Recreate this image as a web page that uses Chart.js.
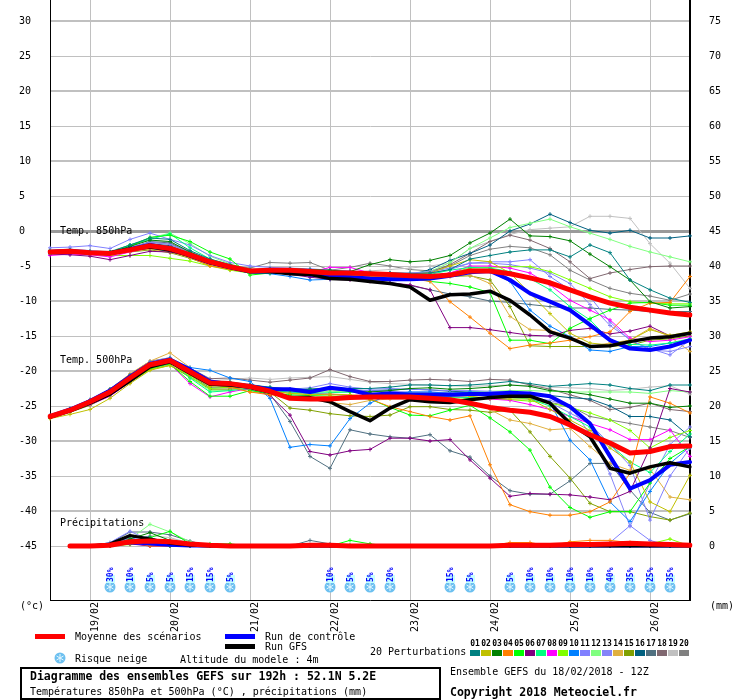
<!DOCTYPE html>
<html>
<head>
<meta charset="utf-8">
<script src="https://cdn.jsdelivr.net/npm/chart.js@4.4.0/dist/chart.umd.min.js"></script>
<style>
body { margin: 0; background: #fff; }
#wrap { position: relative; width: 740px; height: 700px; font-family: "DejaVu Sans Mono", monospace; font-size: 10px; color: #000; }
#wrap canvas { position: absolute; left: 0; top: 0; }
.t { position: absolute; white-space: pre; line-height: 10px; }
.b { font-weight: bold; font-size: 11.5px; line-height: 12px; }
.sw { position: absolute; }
.num { position: absolute; font-size: 8px; font-weight: bold; line-height: 8px; width: 10px; text-align: center; }
#box { position: absolute; left: 20px; top: 667px; width: 421px; height: 33px; border: 2px solid #000; box-sizing: border-box; }
</style>
</head>
<body>
<div id="wrap">
<canvas id="gefs" width="740" height="700"></canvas>
<div class="t" style="left:60px;top:226px">Temp. 850hPa</div>
<div class="t" style="left:60px;top:355px">Temp. 500hPa</div>
<div class="t" style="left:60px;top:518px">Précipitations</div>
<div class="t" style="left:20px;top:601px">(°c)</div>
<div class="t" style="left:710px;top:601px">(mm)</div>

<div class="sw" style="left:35px;top:634px;width:30px;height:5px;background:#ff0000"></div>
<div class="t" style="left:75px;top:632px">Moyenne des scénarios</div>
<div class="sw" style="left:225px;top:634px;width:30px;height:5px;background:#0000ff"></div>
<div class="t" style="left:265px;top:632px">Run de contrôle</div>
<div class="sw" style="left:225px;top:644px;width:30px;height:5px;background:#000000"></div>
<div class="t" style="left:265px;top:642px">Run GFS</div>
<div class="t" style="left:75px;top:654px">Risque neige</div>
<div class="t" style="left:180px;top:655px">Altitude du modele : 4m</div>
<div class="t" style="left:370px;top:647px">20 Perturbations</div>
<div id="members"></div>

<div id="box"></div>
<div class="t b" style="left:30px;top:670px">Diagramme des ensembles GEFS sur 192h : 52.1N 5.2E</div>
<div class="t" style="left:30px;top:687px">Températures 850hPa et 500hPa (°C) , précipitations (mm)</div>
<div class="t" style="left:450px;top:667px">Ensemble GEFS du 18/02/2018 - 12Z</div>
<div class="t b" style="left:450px;top:686px">Copyright 2018 Meteociel.fr</div>
</div>

<script>
// run 18/02/2018 12Z, every 6h up to 192h
const times = ['18/02 12Z','18/02 18Z',
    '19/02 00Z','19/02 06Z','19/02 12Z','19/02 18Z',
    '20/02 00Z','20/02 06Z','20/02 12Z','20/02 18Z',
    '21/02 00Z','21/02 06Z','21/02 12Z','21/02 18Z',
    '22/02 00Z','22/02 06Z','22/02 12Z','22/02 18Z',
    '23/02 00Z','23/02 06Z','23/02 12Z','23/02 18Z',
    '24/02 00Z','24/02 06Z','24/02 12Z','24/02 18Z',
    '25/02 00Z','25/02 06Z','25/02 12Z','25/02 18Z',
    '26/02 00Z','26/02 06Z','26/02 12Z'];

const memberColors = ['#008080','#c0c000','#008000','#ff8000','#00ff00','#800080','#00ff80','#ff00ff','#80ff00','#0080ff',
    '#8080ff','#80ff80','#8484f8','#e0b040','#80a000','#006080','#507080','#806870','#c0c0c0','#808080'];

// risque neige (%)
const snowRisk = [0,0,0,30,10,5,5,15,15,5, 0,0,0,0,10,5,5,20,0,0, 15,5,0,5,10,10,10,10,40,35, 25,35,0];

// 850 hPa
const mean850 = [-3.0,-2.9,-3.1,-3.2,-2.7,-2.1,-2.5,-3.4,-4.4,-5.1,-5.7, -5.6,-5.6,-5.8,-6.0,-6.0,-6.1,-6.2,-6.4,-6.5,-6.3, -5.7,-5.7,-6.1,-6.7,-7.4,-8.4,-9.4,-10.3,-10.9,-11.3,-11.7,-12.0];
const ctrl850 = [-3.0,-2.9,-3.1,-3.2,-2.6,-2.0,-2.5,-3.5,-4.5,-5.2,-5.8, -5.8,-5.9,-6.2,-6.5,-6.6,-6.8,-6.9,-6.9,-6.8,-6.4, -5.9,-5.7,-7.0,-8.9,-10.1,-11.3,-13.4,-15.6,-16.8,-17.0,-16.5,-15.6];
const gfs850 = [-3.0,-2.9,-3.1,-3.1,-2.6,-2.3,-2.7,-3.5,-4.5,-5.2,-5.8, -5.8,-6.1,-6.2,-6.8,-6.9,-7.2,-7.5,-8.0,-9.9,-9.1, -9.0,-8.6,-9.9,-12.0,-14.4,-15.3,-16.5,-16.4,-15.8,-15.3,-15.1,-14.6];
const members850 = [
    [-2.8,-2.7,-2.9,-3.0,-2.0,-1.0,-1.2,-2.8,-4.0,-4.8,-5.5, -5.4,-5.5,-5.7,-5.8,-5.9,-6.0,-6.0,-6.1,-6.0,-5.5, -4.0,-3.5,-3.0,-2.7,-2.7,-3.7,-2.0,-3.1,-7.0,-8.4,-9.6,-10.2],
    [-3.1,-3.0,-3.2,-3.3,-2.9,-2.4,-2.7,-3.5,-4.6,-5.3,-5.9, -5.8,-5.9,-6.0,-6.2,-6.1,-6.3,-6.4,-6.2,-6.0,-5.0, -4.1,-4.4,-6.0,-8.9,-11.8,-14.6,-16.0,-16.3,-15.6,-14.1,-14.9,-14.4],
    [-3.0,-2.8,-3.0,-3.1,-2.2,-1.3,-1.5,-3.0,-4.2,-5.0,-5.6, -5.5,-5.4,-5.5,-5.6,-5.8,-4.8,-4.1,-4.4,-4.2,-3.5, -1.7,-0.3,1.7,-0.7,-0.8,-1.4,-3.3,-5.1,-7.0,-10.1,-11.0,-10.8],
    [-3.0,-3.0,-3.1,-3.3,-2.8,-2.3,-2.8,-3.8,-5.0,-5.5,-5.9, -5.8,-5.8,-6.0,-6.3,-6.4,-6.5,-6.6,-6.8,-7.2,-10.1, -12.3,-14.6,-16.8,-16.3,-16.0,-15.6,-15.1,-14.4,-11.5,-10.3,-10.2,-6.5],
    [-3.1,-2.9,-3.0,-3.1,-2.2,-0.9,-0.6,-1.5,-3.0,-4.0,-6.3, -6.0,-5.9,-6.0,-6.1,-6.2,-6.3,-6.4,-6.6,-7.2,-7.5, -8.0,-8.8,-15.6,-15.6,-16.1,-13.9,-12.5,-11.3,-10.3,-10.2,-10.6,-10.6],
    [-3.3,-3.4,-3.6,-4.1,-3.5,-2.9,-3.0,-3.6,-4.5,-5.3,-5.8, -5.9,-6.2,-6.6,-6.9,-7.0,-7.2,-7.4,-7.7,-8.4,-13.8, -13.8,-14.1,-14.5,-14.9,-15.0,-14.2,-13.9,-14.7,-14.3,-13.6,-15.0,-14.6],
    [-2.9,-2.8,-3.0,-3.0,-2.0,-1.2,-0.4,-2.4,-4.0,-4.9,-5.6, -5.6,-5.6,-5.8,-5.9,-6.0,-6.1,-6.2,-6.3,-6.2,-5.6, -5.2,-5.3,-5.8,-6.8,-8.4,-10.8,-12.7,-15.6,-16.2,-16.3,-16.0,-15.4],
    [-3.5,-3.3,-3.4,-3.7,-3.0,-2.4,-2.7,-3.5,-4.5,-5.2,-5.8, -5.7,-5.8,-5.9,-5.2,-5.2,-6.0,-6.3,-6.5,-6.4,-6.0, -5.0,-5.0,-5.3,-6.0,-7.7,-9.9,-11.3,-12.7,-15.3,-15.8,-15.6,-15.1],
    [-3.2,-3.1,-3.3,-3.5,-3.5,-3.5,-3.9,-4.3,-5.0,-5.6,-6.0, -5.9,-5.8,-6.0,-6.2,-6.1,-6.2,-6.4,-6.5,-6.5,-6.0, -5.3,-5.2,-5.1,-5.1,-5.8,-7.0,-8.2,-9.4,-10.1,-10.3,-10.4,-10.4],
    [-2.9,-2.8,-3.0,-3.1,-2.6,-2.4,-2.9,-3.6,-4.6,-5.4,-6.0, -6.1,-6.5,-7.0,-6.9,-6.8,-6.7,-6.5,-6.6,-6.4,-6.0, -5.5,-5.8,-7.2,-11.3,-13.6,-15.1,-17.0,-17.2,-16.5,-16.5,-16.0,-15.6],
    [-2.4,-2.3,-2.1,-2.5,-1.2,-0.3,-1.2,-2.0,-3.5,-4.5,-5.0, -5.2,-5.3,-5.4,-5.6,-5.7,-5.9,-6.0,-6.0,-5.8,-5.3, -4.6,-4.4,-4.4,-4.1,-6.5,-8.4,-9.4,-13.0,-15.6,-16.8,-17.7,-15.6],
    [-2.9,-2.8,-3.0,-3.0,-2.0,-1.0,-0.3,-1.8,-3.6,-4.7,-5.5, -5.5,-5.6,-5.7,-5.8,-5.8,-5.9,-6.0,-6.0,-5.8,-4.5, -2.5,-1.0,0.5,1.1,1.7,0.6,-0.3,-1.2,-2.2,-3.0,-3.7,-4.4],
    [-2.8,-2.6,-2.8,-3.0,-2.3,-1.6,-1.9,-3.0,-4.1,-4.9,-5.5, -5.5,-5.6,-5.7,-5.9,-6.0,-6.0,-6.1,-6.2,-6.1,-5.5, -4.6,-4.6,-4.8,-5.3,-6.0,-7.5,-10.5,-13.5,-15.5,-17.0,-17.2,-16.5],
    [-3.0,-3.0,-3.2,-3.4,-2.9,-2.6,-3.0,-3.8,-4.8,-5.5,-5.8, -5.8,-5.9,-6.0,-6.1,-6.2,-6.3,-6.4,-6.5,-6.6,-6.4, -6.3,-7.5,-12.2,-14.1,-14.2,-15.1,-16.5,-16.0,-15.6,-13.9,-15.1,-17.2],
    [-3.1,-3.0,-3.2,-3.4,-3.0,-2.7,-3.1,-3.9,-4.9,-5.5,-6.0, -5.9,-6.0,-6.1,-6.2,-6.3,-6.4,-6.5,-6.6,-6.6,-6.5, -6.4,-7.0,-10.8,-16.4,-16.5,-16.5,-16.5,-16.5,-16.3,-15.6,-15.4,-15.0],
    [-2.9,-2.8,-3.0,-3.1,-2.4,-1.8,-2.1,-3.2,-4.3,-5.1,-5.7, -5.7,-5.7,-5.9,-6.0,-6.1,-6.2,-6.2,-6.3,-5.5,-4.2, -3.2,-2.0,0.0,1.0,2.4,1.2,0.1,-0.3,0.1,-1.0,-1.0,-0.7],
    [-3.0,-2.9,-3.0,-3.2,-2.5,-1.5,-1.7,-3.1,-4.3,-5.0,-5.6, -5.7,-5.9,-6.2,-6.5,-6.8,-7.1,-7.4,-7.8,-8.4,-9.0, -9.4,-10.0,-10.2,-10.5,-10.8,-11.0,-11.0,-11.2,-11.3,-11.5,-11.5,-11.5],
    [-3.0,-2.9,-3.1,-3.2,-2.7,-2.0,-2.4,-3.3,-4.4,-5.1,-5.6, -5.5,-5.5,-5.6,-5.7,-5.8,-5.9,-6.0,-6.0,-5.9,-4.8, -3.2,-1.5,-0.6,-1.3,-2.5,-4.4,-6.8,-6.0,-5.5,-5.1,-5.0,-5.0],
    [-2.7,-2.6,-2.8,-2.9,-2.0,-1.3,-1.6,-2.9,-4.1,-4.9,-5.5, -5.4,-5.4,-5.5,-5.6,-5.7,-5.7,-5.5,-5.3,-5.0,-4.6, -2.5,-1.5,-0.5,0.2,0.4,0.6,2.1,2.1,1.8,-1.8,-4.6,-8.2],
    [-3.0,-2.9,-3.0,-3.1,-2.4,-1.6,-1.9,-3.0,-4.2,-4.9,-5.3, -4.5,-4.6,-4.5,-5.6,-5.2,-4.6,-5.0,-5.5,-5.7,-5.0, -3.5,-2.6,-2.2,-2.4,-3.4,-5.6,-7.0,-8.2,-8.9,-9.3,-9.9,-9.0]
];

// 500 hPa
const mean500 = [-26.5,-25.6,-24.4,-23.0,-21.0,-19.1,-18.5,-20.1,-21.7,-21.8,-22.2, -22.9,-23.9,-24.0,-24.0,-23.8,-23.7,-23.7,-23.7,-23.9,-24.1,-24.6, -25.2,-25.6,-25.9,-26.5,-27.7,-29.1,-30.3,-31.7,-31.5,-30.8,-30.7];
const ctrl500 = [-26.5,-25.5,-24.3,-22.8,-20.8,-19.0,-18.4,-19.8,-21.5,-21.9,-22.2, -22.6,-22.6,-23.0,-22.4,-22.7,-23.4,-23.2,-23.4,-23.4,-23.4,-23.3, -23.3,-23.1,-23.2,-23.6,-25.1,-27.5,-32.2,-36.8,-35.6,-33.4,-33.0];
const gfs500 = [-26.6,-25.7,-24.6,-23.3,-21.4,-19.4,-18.7,-20.3,-21.9,-22.0,-22.3, -23.0,-23.8,-23.8,-24.4,-25.8,-27.1,-25.3,-24.1,-24.4,-24.5,-24.1, -23.8,-23.6,-23.6,-24.6,-27.5,-29.4,-33.9,-34.6,-33.7,-33.1,-33.7];
const members500 = [
    [-26.4,-25.4,-24.2,-22.6,-20.6,-18.8,-18.2,-19.8,-21.5,-21.7,-22.0, -22.3,-22.6,-22.6,-22.4,-22.5,-22.5,-22.3,-22.0,-22.0,-22.1,-22.0, -21.8,-21.5,-21.8,-22.2,-22.0,-21.8,-22.0,-22.5,-22.8,-22.0,-22.0],
    [-26.8,-26.2,-25.5,-23.9,-21.8,-19.9,-19.2,-20.6,-22.2,-22.0,-22.3, -22.8,-23.2,-23.4,-23.3,-23.4,-23.6,-23.5,-23.4,-23.5,-23.5,-23.6, -23.9,-24.0,-24.0,-25.5,-27.0,-28.5,-31.0,-33.0,-38.7,-40.1,-34.9],
    [-26.5,-25.5,-24.3,-22.9,-20.9,-19.0,-18.6,-20.4,-21.5,-21.6,-22.0, -22.4,-22.8,-22.6,-22.5,-22.9,-23.0,-22.8,-22.5,-22.4,-22.6,-22.5, -22.3,-22.0,-22.2,-22.8,-23.0,-23.4,-24.0,-24.6,-24.6,-25.2,-25.0],
    [-26.6,-25.7,-24.5,-23.2,-21.2,-19.3,-18.7,-20.5,-22.0,-22.3,-23.0, -23.4,-23.6,-23.8,-23.6,-23.7,-24.0,-25.1,-25.8,-26.5,-27.0,-26.4, -33.4,-39.1,-40.1,-40.6,-40.6,-40.1,-38.7,-34.6,-23.7,-24.6,-26.0],
    [-26.5,-25.6,-24.6,-23.4,-21.5,-19.6,-19.0,-21.5,-23.6,-23.6,-22.8, -23.2,-23.4,-23.5,-23.6,-23.8,-24.0,-25.2,-26.3,-26.4,-25.6,-24.9, -26.7,-28.7,-31.3,-36.6,-39.5,-40.9,-40.1,-40.1,-36.0,-32.5,-30.8],
    [-26.6,-25.7,-24.5,-23.2,-21.2,-19.3,-18.8,-20.5,-22.0,-22.2,-22.5, -23.5,-26.3,-31.5,-32.0,-31.4,-31.2,-29.6,-29.6,-30.0,-29.8,-32.7, -35.3,-37.9,-37.5,-37.6,-37.7,-38.0,-38.4,-37.2,-31.0,-22.5,-23.0],
    [-26.5,-25.5,-24.3,-22.9,-20.8,-19.0,-18.6,-21.0,-23.0,-22.8,-22.5, -22.8,-23.0,-23.2,-23.1,-23.0,-23.2,-23.3,-23.5,-23.6,-23.7,-23.8, -23.8,-23.8,-24.0,-25.0,-26.5,-28.0,-30.5,-33.0,-34.5,-31.5,-29.0],
    [-26.6,-25.8,-24.8,-23.6,-21.6,-19.5,-19.0,-21.8,-23.7,-23.0,-22.5, -22.7,-23.0,-23.2,-23.3,-23.5,-23.4,-23.3,-23.4,-23.5,-23.6,-23.8, -24.0,-24.2,-24.8,-25.5,-26.5,-27.5,-28.4,-29.8,-29.8,-28.4,-32.2],
    [-26.6,-25.8,-24.7,-23.4,-21.6,-19.8,-19.2,-20.8,-22.5,-22.3,-22.5, -22.9,-23.2,-23.3,-23.4,-23.5,-23.6,-23.6,-23.6,-23.7,-23.8,-23.9, -24.0,-24.1,-24.3,-24.6,-25.2,-26.0,-27.0,-28.5,-31.0,-29.5,-28.5],
    [-26.5,-25.6,-24.4,-23.1,-21.1,-19.0,-18.3,-19.5,-19.9,-21.0,-21.5, -23.9,-30.9,-30.5,-30.7,-26.8,-24.6,-23.3,-23.0,-23.0,-23.2,-23.0, -23.1,-23.3,-23.5,-24.5,-29.9,-32.7,-38.7,-41.5,-37.2,-33.2,-30.8],
    [-26.4,-25.4,-24.1,-22.7,-20.6,-18.7,-18.1,-19.8,-21.4,-21.6,-21.9, -22.4,-22.6,-22.4,-21.8,-22.3,-22.6,-22.5,-22.6,-22.7,-22.8,-22.8, -22.9,-23.0,-23.5,-24.5,-26.0,-27.5,-30.5,-33.5,-41.3,-35.0,-31.0],
    [-26.5,-25.6,-24.5,-23.2,-21.2,-19.3,-18.8,-20.8,-22.8,-22.8,-22.4, -22.8,-23.0,-23.1,-22.9,-23.0,-23.2,-23.3,-23.4,-23.3,-23.2,-23.0, -22.9,-22.8,-22.8,-22.9,-23.0,-23.0,-23.0,-23.0,-23.2,-22.8,-23.0],
    [-26.4,-25.5,-24.2,-22.8,-20.7,-18.8,-18.3,-20.0,-21.6,-21.9,-22.1, -22.5,-22.8,-22.9,-22.6,-22.7,-22.8,-22.9,-23.0,-23.0,-23.1,-23.2, -23.3,-23.5,-23.8,-24.2,-25.0,-29.0,-34.7,-42.2,-36.0,-30.5,-28.0],
    [-26.5,-25.5,-24.2,-22.6,-20.4,-18.6,-17.4,-19.5,-21.8,-22.3,-23.0, -23.2,-23.6,-23.8,-24.5,-24.8,-24.2,-24.0,-24.0,-24.2,-24.4,-24.5, -25.5,-27.0,-27.5,-28.4,-28.2,-30.8,-33.2,-34.2,-34.0,-38.0,-38.4],
    [-26.7,-25.9,-24.9,-23.5,-21.6,-19.7,-19.2,-20.9,-22.6,-22.6,-22.6, -23.0,-25.3,-25.6,-26.1,-26.4,-26.5,-26.3,-25.1,-25.1,-25.5,-25.6, -25.9,-25.6,-28.7,-32.2,-35.3,-38.9,-40.1,-40.1,-40.8,-41.3,-40.3],
    [-26.5,-25.6,-24.4,-23.0,-21.0,-19.1,-18.6,-20.3,-21.9,-22.0,-22.2, -22.6,-22.9,-22.8,-22.6,-22.7,-22.8,-22.7,-22.6,-22.7,-22.9,-23.0, -23.0,-23.2,-23.3,-23.5,-23.8,-24.0,-25.0,-26.5,-26.5,-27.0,-29.4],
    [-26.5,-25.5,-24.2,-22.8,-20.8,-19.0,-18.6,-20.6,-22.4,-22.4,-22.7, -23.3,-27.2,-32.2,-33.9,-28.4,-29.0,-29.4,-29.6,-29.1,-31.4,-32.3, -35.0,-37.1,-37.6,-37.6,-35.7,-33.2,-33.2,-37.0,-40.2,-41.3,-40.4],
    [-26.4,-25.4,-24.1,-22.6,-20.5,-18.6,-18.1,-19.6,-21.1,-21.0,-21.3, -21.6,-21.3,-21.0,-19.8,-20.8,-21.5,-21.5,-21.3,-21.2,-21.3,-21.5, -21.2,-21.3,-22.0,-22.6,-23.4,-24.2,-25.5,-25.2,-24.6,-25.5,-25.8],
    [-26.4,-25.4,-24.2,-22.7,-20.6,-18.8,-18.3,-19.9,-21.4,-21.2,-21.0, -21.2,-21.0,-20.9,-20.8,-21.2,-21.6,-21.8,-21.9,-22.0,-22.1,-22.2, -22.1,-22.0,-22.1,-22.3,-22.4,-22.5,-22.8,-22.6,-22.3,-22.1,-23.3],
    [-26.5,-25.5,-24.3,-22.9,-20.9,-19.0,-18.5,-20.2,-21.8,-22.0,-22.3, -22.6,-22.8,-22.8,-22.7,-22.8,-22.9,-23.0,-23.1,-23.1,-23.2,-23.3, -23.4,-23.6,-24.0,-24.5,-25.0,-26.5,-27.0,-27.5,-28.0,-28.5,-29.5]
];

// precipitations (mm / 6h), nothing at 0h
const rainMean = [null, 0,0,0.1,0.6,0.7,0.6,0.3,0.1, 0,0,0,0,0.1,0.1,0,0, 0,0,0,0,0,0,0.1,0.1, 0.1,0.2,0.2,0.3,0.4,0.3,0.2,0.1];
const rainCtrl = [null, 0,0,0.2,0.5,0.3,0.1,0,0, 0,0,0,0,0,0,0,0, 0,0,0,0,0,0,0,0, 0,0,0,0,0,0,0,0];
const rainGfs = [null, 0,0,0.3,1.5,1.0,0.4,0.1,0, 0,0,0,0,0,0,0,0, 0,0,0,0,0,0,0,0, 0,0,0,0,0,0,0,0];
const rainMembers = [
    [null, 0,0,0,0.8,0.6,0,0,0, 0,0,0,0,0,0,0,0, 0,0,0,0,0,0,0,0, 0,0,0,0,0,0,0,0],
    [null, 0,0,0,0.4,0.3,0,0,0, 0,0,0,0,0,0,0,0, 0,0,0,0,0,0,0,0, 0,0,0,0,0,0,0,0],
    [null, 0,0,0,1.0,1.9,0.8,0.2,0, 0,0,0,0,0,0,0.1,0, 0,0,0,0,0,0,0,0, 0,0,0,0,0,0,0,0],
    [null, 0,0,0.3,0.6,0,0,0,0, 0,0,0,0,0,0,0,0, 0,0,0,0,0,0,0.5,0.5, 0,0.6,0.8,0.8,0.5,0,0,0],
    [null, 0,0,0,0.7,1.2,2.1,0.3,0.3, 0.3,0,0,0,0,0,0.8,0.3, 0,0,0,0,0,0,0,0, 0,0,0.3,0.3,0,0,0,0],
    [null, 0,0,0,0.3,0,0,0,0, 0,0,0,0,0,0,0,0, 0,0,0,0,0,0,0,0, 0,0,0,0,0,0,0,0],
    [null, 0,0,0,0.5,0.4,0,0,0, 0,0,0,0,0,0,0,0, 0,0,0,0,0,0,0,0, 0,0,0,0,0,0,0,0],
    [null, 0,0,0,0.4,0,0,0,0, 0,0,0,0,0,0,0,0, 0,0,0,0,0,0,0,0, 0,0,0,0,0,0,0,0],
    [null, 0,0,0,0.2,0.3,0,0,0, 0,0,0,0,0,0,0,0, 0,0,0,0,0,0,0,0, 0,0,0,0,0,0.3,1.0,0],
    [null, 0,0,0,0.6,0.3,0,0,0, 0,0,0,0,0,0,0,0, 0,0,0,0,0,0,0,0, 0,0,0,0,0,0,0,0],
    [null, 0,0,0.5,2.1,0.8,0,0,0, 0,0,0,0,0,0,0,0, 0,0,0,0,0,0,0,0, 0,0,0,0.5,2.9,0.8,0,0],
    [null, 0,0,0,1.0,3.1,2.0,0.6,0, 0,0,0,0,0,0,0,0, 0,0,0,0,0,0,0,0, 0,0,0,0,0,0,0,0],
    [null, 0,0,0,1.2,0.6,0,0,0, 0,0,0,0,0,0,0,0, 0,0,0,0,0,0,0,0, 0,0,0,0,0,0,0,0],
    [null, 0,0,0,0.5,0.6,0.3,0,0, 0,0,0,0,0,0,0,0, 0,0,0,0,0,0,0,0, 0,0,0,0,0,0,0,0],
    [null, 0,0,0,0.3,0.4,0,0,0, 0,0,0,0,0,0,0,0, 0,0,0,0,0,0,0,0, 0,0,0,0,0,0,0,0],
    [null, 0,0,0,1.2,1.3,0,0,0, 0,0,0,0,0,0,0,0, 0,0,0,0,0,0,0,0, 0,0,0,0,0,0,0,0],
    [null, 0,0,0.4,2.0,2.0,1.6,0.7,0, 0,0,0,0,0.8,0.3,0,0, 0,0,0,0,0,0,0,0, 0,0,0,0,0,0,0,0],
    [null, 0,0,0,0.5,0.9,0.6,0,0, 0,0,0,0,0,0,0,0, 0,0,0,0,0,0,0,0, 0,0,0,0,0,0,0,0],
    [null, 0,0,0,0.6,1.5,1.2,0.4,0, 0,0,0,0,0,0,0,0, 0,0,0,0,0,0,0,0, 0,0,0,0,0,0,0,0],
    [null, 0,0,0,0.9,1.0,0.5,0,0, 0,0,0,0,0,0,0,0, 0,0,0,0,0,0,0,0, 0,0,0,0,0,0,0,0]
];

// temperature axis runs -52.7..33 (7 px per degree), rain axis is the same shifted by 45
const tMin = -52.714;
const tMax = 33;
const rainShift = 45;

function memberSet(data, color, axis) {
    return {
        data: data,
        borderColor: color,
        backgroundColor: color,
        borderWidth: 1,
        pointStyle: 'cross',
        pointRadius: 2,
        pointBorderWidth: 1,
        pointBorderColor: color,
        yAxisID: axis,
        order: 3
    };
}

function mainSet(data, color, width, axis, order) {
    return {
        data: data,
        borderColor: color,
        borderWidth: width,
        borderJoinStyle: 'round',
        borderCapStyle: 'round',
        pointRadius: 0,
        yAxisID: axis,
        order: order
    };
}

function buildDatasets() {
    const sets = [];
    members850.forEach((d, i) => sets.push(memberSet(d, memberColors[i], 'y')));
    members500.forEach((d, i) => sets.push(memberSet(d, memberColors[i], 'y')));
    rainMembers.forEach((d, i) => sets.push(memberSet(d, memberColors[i], 'y2')));
    sets.push(mainSet(ctrl850, '#0000ff', 4, 'y', 2));
    sets.push(mainSet(ctrl500, '#0000ff', 4, 'y', 2));
    sets.push(mainSet(rainCtrl, '#0000ff', 3, 'y2', 2));
    sets.push(mainSet(gfs850, '#000000', 3.5, 'y', 1));
    sets.push(mainSet(gfs500, '#000000', 3.5, 'y', 1));
    sets.push(mainSet(rainGfs, '#000000', 3, 'y2', 1));
    sets.push(mainSet(mean850, '#ff0000', 5, 'y', 0));
    sets.push(mainSet(mean500, '#ff0000', 5, 'y', 0));
    sets.push(mainSet(rainMean, '#ff0000', 5, 'y2', 0));
    return sets;
}

function drawFlake(ctx, x, y) {
    ctx.save();
    ctx.fillStyle = '#6cc0f0';
    ctx.beginPath();
    ctx.arc(x, y, 5.5, 0, Math.PI * 2);
    ctx.fill();
    ctx.strokeStyle = '#e8f8ff';
    ctx.lineWidth = 1;
    for (let k = 0; k < 3; k++) {
        const a = k * Math.PI / 3 + Math.PI / 2;
        ctx.beginPath();
        ctx.moveTo(x - 4 * Math.cos(a), y - 4 * Math.sin(a));
        ctx.lineTo(x + 4 * Math.cos(a), y + 4 * Math.sin(a));
        ctx.stroke();
    }
    ctx.restore();
}

const snowPlugin = {
    id: 'snow',
    afterDatasetsDraw(chart) {
        const ctx = chart.ctx;
        const xs = chart.scales.x;
        const base = chart.chartArea.bottom;
        snowRisk.forEach((p, i) => {
            if (!p) return;
            const x = xs.getPixelForValue(i);
            drawFlake(ctx, x, base - 13);
            ctx.save();
            ctx.fillStyle = '#c8ffff';
            ctx.fillRect(x - 4, base - 25, 9, 8);
            ctx.translate(x + 1, base - 18);
            ctx.rotate(-Math.PI / 2);
            ctx.fillStyle = '#0000ff';
            ctx.font = 'bold 8px "DejaVu Sans Mono"';
            ctx.textBaseline = 'middle';
            ctx.textAlign = 'left';
            ctx.fillText(p + '%', 0, 0);
            ctx.restore();
        });
        // legend icon
        drawFlake(ctx, 60, 658);
    }
};

// perturbation legend
const memberBox = document.getElementById('members');
memberColors.forEach((c, i) => {
    const num = document.createElement('div');
    num.className = 'num';
    num.style.left = (470 + i * 11) + 'px';
    num.style.top = '640px';
    num.textContent = String(i + 1).padStart(2, '0');
    memberBox.appendChild(num);
    const sw = document.createElement('div');
    sw.className = 'sw';
    sw.style.left = (470 + i * 11) + 'px';
    sw.style.top = '650px';
    sw.style.width = '10px';
    sw.style.height = '6px';
    sw.style.background = c;
    memberBox.appendChild(sw);
});

const tickFont = { family: 'DejaVu Sans Mono', size: 10 };
// y labels: zero line height so that the axes add no top padding
const yTickFont = { family: 'DejaVu Sans Mono', size: 10, lineHeight: 0 };

new Chart(document.getElementById('gefs'), {
    type: 'line',
    data: { labels: times, datasets: buildDatasets() },
    plugins: [snowPlugin],
    options: {
        responsive: false,
        animation: false,
        layout: { autoPadding: false, padding: { left: 19, right: 0, top: 0, bottom: 0 } },
        plugins: { legend: { display: false }, tooltip: { enabled: false } },
        elements: { line: { tension: 0 } },
        scales: {
            x: {
                type: 'category',
                offset: false,
                afterFit(scale) { scale.height = 100; },
                border: { display: true, color: '#000', width: 1 },
                grid: {
                    drawTicks: false,
                    lineWidth: 1,
                    color: (c) => (c.index % 4 === 2 ? '#c0c0c0' : 'rgba(0,0,0,0)')
                },
                ticks: {
                    autoSkip: false,
                    minRotation: 90,
                    maxRotation: 90,
                    padding: 2,
                    labelOffset: 5,
                    color: '#000',
                    font: tickFont,
                    callback: function(v, i) {
                        const l = times[i];
                        return l.endsWith('00Z') ? l.slice(0, 5) : '';
                    }
                }
            },
            y: {
                position: 'left',
                min: tMin,
                max: tMax,
                afterFit(scale) { scale.width = 31; },
                border: { display: true, color: '#000', width: 1 },
                grid: {
                    drawTicks: false,
                    color: (c) => {
                        const v = c.tick ? c.tick.value : 0;
                        if (v < -45) return 'rgba(0,0,0,0)';
                        return v === 0 ? '#9a9a9a' : '#c0c0c0';
                    },
                    lineWidth: (c) => {
                        const v = c.tick ? c.tick.value : 0;
                        if (v === 0) return 3;
                        return v % 10 === 0 ? 2 : 1;
                    }
                },
                ticks: {
                    stepSize: 5,
                    includeBounds: false,
                    autoSkip: false,
                    crossAlign: 'far',
                    padding: 0,
                    color: '#000',
                    font: yTickFont,
                    callback: (v) => (v >= -45 && v <= 30 ? String(v) : '')
                }
            },
            y2: {
                position: 'right',
                min: tMin + rainShift,
                max: tMax + rainShift,
                afterFit(scale) { scale.width = 50; },
                border: { display: true, color: '#000', width: 2 },
                grid: { drawOnChartArea: false, drawTicks: true, tickLength: 19, color: 'rgba(0,0,0,0)' },
                ticks: {
                    stepSize: 5,
                    includeBounds: false,
                    autoSkip: false,
                    crossAlign: 'near',
                    padding: 0,
                    color: '#000',
                    font: yTickFont,
                    callback: (v) => (v >= 0 && v <= 75 ? String(v) : '')
                }
            }
        }
    }
});
</script>
</body>
</html>
